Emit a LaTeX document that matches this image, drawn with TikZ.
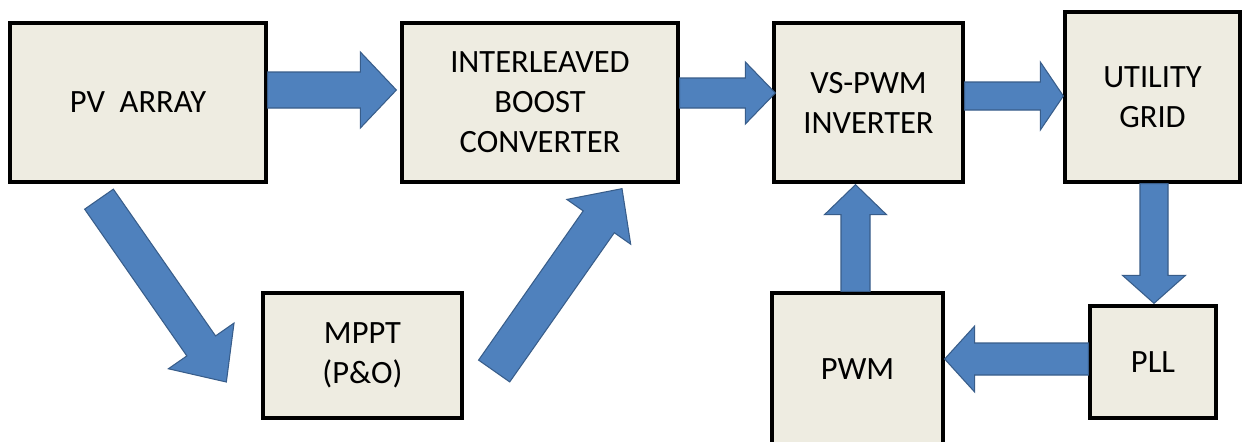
\documentclass[tikz,border=0pt]{standalone}
\usepackage{fontspec}
\setmainfont{Carlito}
\usepackage{tikz}
\usetikzlibrary{positioning,calc}

\definecolor{boxfill}{HTML}{EEECE1}
\definecolor{arrowfill}{HTML}{4F81BD}
\definecolor{arrowline}{HTML}{385D8A}

% block arrow: from, to, half shaft, half head, head length
\newcommand{\blockarrow}[5]{%
  \coordinate (bah) at ($(#2)!#5!(#1)$);
  \filldraw[arrowblock] ($(#1)!#3!90:(#2)$) -- ($(bah)!#3!90:(#2)$) -- ($(bah)!#4!90:(#2)$)
    -- (#2) -- ($(bah)!#4!-90:(#2)$) -- ($(bah)!#3!-90:(#2)$) -- ($(#1)!#3!-90:(#2)$) -- cycle;
}

\begin{document}
\begin{tikzpicture}[x=0.02cm,y=-0.02cm]
        \tikzstyle{rectblock}=[rectangle, draw=black, line width=1.9pt, fill=boxfill, align=center,
          font=\fontsize{18.5}{22.8}\selectfont, inner sep=0pt]
        \tikzstyle{arrowblock}=[fill=arrowfill, draw=arrowline, line width=0.6pt, line join=miter]
        \useasboundingbox (0,0) rectangle (1244,441);
        \fill[white] (0,0) rectangle (1244,441);
        \node[rectblock, minimum width=5.12cm, minimum height=3.18cm] (pv) at (138,102.5) {PV\ \ ARRAY};
        \node[rectblock, minimum width=5.52cm, minimum height=3.18cm] (ibc) at (540,102.5) {INTERLEAVED\\BOOST\\CONVERTER};
        \node[rectblock, minimum width=3.78cm, minimum height=3.18cm] (inv) at (868.5,102.5) {VS-PWM\\INVERTER};
        \node[rectblock, minimum width=3.5cm, minimum height=3.4cm] (grid) at (1152.5,97) {UTILITY\\GRID};
        \node[rectblock, minimum width=3.98cm, minimum height=2.5cm] (mppt) at (362.5,355.5) {MPPT\\(P\&O)};
        \node[rectblock, minimum width=3.42cm, minimum height=3.06cm] (pwm) at (857.5,369.5) {PWM};
        \node[rectblock, minimum width=2.52cm, minimum height=2.24cm] (pll) at (1153,362) {PLL};
        % power path
        \blockarrow{$(pv.east)+(0,-12.5)$}{$(ibc.west)+(-4,-12.5)$}{0.36cm}{0.76cm}{0.72cm}
        \blockarrow{$(ibc.east)+(0,-9.5)$}{$(inv.west)+(3,-9.5)$}{0.3cm}{0.62cm}{0.6cm}
        \blockarrow{$(inv.east)+(0,-6.5)$}{$(grid.west)+(0,-1)$}{0.28cm}{0.68cm}{0.46cm}
        % control path
        \blockarrow{$(grid.south)+(1.5,0)$}{$(pll.north)+(1,-1)$}{0.28cm}{0.63cm}{0.56cm}
        \blockarrow{$(pll.west)+(0,-3)$}{$(pwm.east)+(0,-10.5)$}{0.32cm}{0.66cm}{0.6cm}
        \blockarrow{$(pwm.north)+(-2,0)$}{$(inv.south)+(-13,1)$}{0.29cm}{0.62cm}{0.6cm}
        % mppt loop
        \blockarrow{$(pv.south)+(-39,15.5)$}{$(mppt.west)+(-35,26.5)$}{0.35cm}{0.8cm}{0.88cm}
        \blockarrow{$(mppt.east)+(30.5,15.5)$}{$(ibc.south)+(82,5)$}{0.38cm}{0.78cm}{0.81cm}
      \end{tikzpicture}
\end{document}
